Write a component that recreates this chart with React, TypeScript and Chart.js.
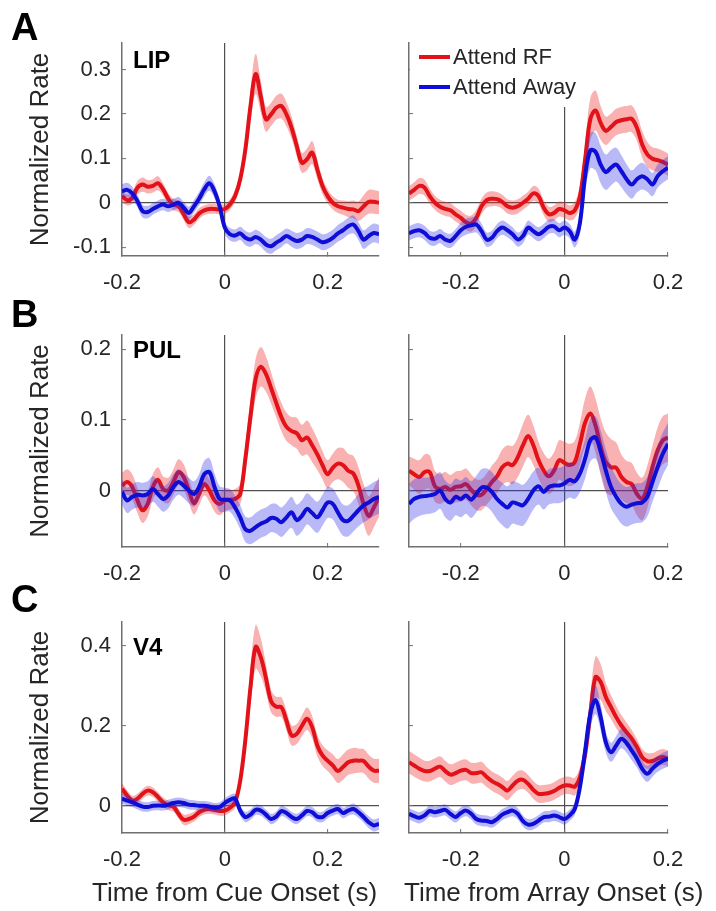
import React, { useEffect, useRef } from "react";
import { Chart, registerables } from "chart.js";
Chart.register(...registerables);

// ---------- time axes (s) ----------
const cueTimes = [
  -0.2, -0.19, -0.18, -0.17, -0.16, -0.15, -0.14, -0.13, -0.12, -0.11,
  -0.1, -0.09, -0.08, -0.07, -0.06, -0.05, -0.04, -0.03, -0.02, -0.01,
  0, 0.01, 0.02, 0.03, 0.04, 0.05, 0.06, 0.07, 0.08, 0.09,
  0.1, 0.11, 0.12, 0.13, 0.14, 0.15, 0.16, 0.17, 0.18, 0.19,
  0.2, 0.21, 0.22, 0.23, 0.24, 0.25, 0.26, 0.27, 0.28, 0.29,
  0.3,
];
const arrayTimes = [
  -0.3, -0.29, -0.28, -0.27, -0.26, -0.25, -0.24, -0.23, -0.22, -0.21,
  -0.2, -0.19, -0.18, -0.17, -0.16, -0.15, -0.14, -0.13, -0.12, -0.11,
  -0.1, -0.09, -0.08, -0.07, -0.06, -0.05, -0.04, -0.03, -0.02, -0.01,
  0, 0.01, 0.02, 0.03, 0.04, 0.05, 0.06, 0.07, 0.08, 0.09,
  0.1, 0.11, 0.12, 0.13, 0.14, 0.15, 0.16, 0.17, 0.18, 0.19,
  0.2,
];

// ---------- tick labels ----------
const cueXTicks = [-0.2, 0, 0.2];
const arrayXTicks = [-0.2, 0, 0.2];
const lipYTicks = [-0.1, 0, 0.1, 0.2, 0.3];
const pulYTicks = [0, 0.1, 0.2];
const v4YTicks = [0, 0.2, 0.4];
const lipYRange = [-0.12, 0.36];
const pulYRange = [-0.08, 0.22];
const v4YRange = [-0.068, 0.46];

// ---------- LIP ----------
const lipCueRF = [
  0.015, 0.006, 0.011, 0.034, 0.041, 0.036, 0.038, 0.044, 0.03, 0.009,
  -0.004, -0.008, -0.026, -0.044, -0.038, -0.024, -0.017, -0.014, -0.014, -0.015,
  -0.014, -0.004, 0.015, 0.053, 0.12, 0.218, 0.29, 0.24, 0.188, 0.199,
  0.214, 0.218, 0.199, 0.169, 0.128, 0.09, 0.098, 0.113, 0.075, 0.038,
  0.015, 0.0, -0.008, -0.011, -0.014, -0.015, -0.019, -0.008, 0.002, 0.002,
  0.0,
];
const lipCueRFErr = [
  0.012, 0.012, 0.013, 0.015, 0.016, 0.015, 0.015, 0.016, 0.014, 0.013,
  0.013, 0.013, 0.013, 0.013, 0.012, 0.012, 0.011, 0.011, 0.011, 0.011,
  0.011, 0.012, 0.013, 0.016, 0.024, 0.036, 0.045, 0.036, 0.028, 0.026,
  0.027, 0.028, 0.027, 0.025, 0.023, 0.022, 0.024, 0.026, 0.022, 0.018,
  0.016, 0.015, 0.015, 0.016, 0.018, 0.02, 0.022, 0.025, 0.027, 0.027,
  0.026,
];
const lipCueAway = [
  0.026, 0.029, 0.021, 0.004, -0.019, -0.021, -0.014, -0.008, -0.004, -0.008,
  -0.004, 0.0, -0.011, -0.023, -0.008, 0.009, 0.03, 0.044, 0.026, -0.008,
  -0.056, -0.071, -0.074, -0.069, -0.079, -0.083, -0.077, -0.083, -0.094, -0.098,
  -0.09, -0.083, -0.075, -0.081, -0.086, -0.083, -0.075, -0.077, -0.083, -0.089,
  -0.086, -0.079, -0.069, -0.062, -0.053, -0.049, -0.064, -0.083, -0.075, -0.068,
  -0.071,
];
const lipCueAwayErr = [
  0.016, 0.016, 0.015, 0.014, 0.014, 0.014, 0.013, 0.013, 0.013, 0.013,
  0.013, 0.013, 0.013, 0.014, 0.014, 0.015, 0.016, 0.017, 0.016, 0.015,
  0.014, 0.014, 0.014, 0.015, 0.016, 0.016, 0.016, 0.016, 0.017, 0.017,
  0.017, 0.017, 0.017, 0.018, 0.018, 0.018, 0.018, 0.018, 0.018, 0.018,
  0.018, 0.018, 0.019, 0.019, 0.019, 0.02, 0.02, 0.021, 0.021, 0.021,
  0.021,
];
const lipArrRF = [
  0.021, 0.029, 0.038, 0.034, 0.015, 0.0, -0.009, -0.014, -0.017, -0.026,
  -0.034, -0.044, -0.047, -0.034, -0.008, 0.006, 0.009, 0.008, 0.002, -0.008,
  -0.011, -0.008, 0.0, 0.009, 0.021, 0.015, -0.011, -0.026, -0.023, -0.014,
  -0.017, -0.023, -0.017, 0.015, 0.098, 0.188, 0.208, 0.18, 0.162, 0.171,
  0.182, 0.186, 0.188, 0.189, 0.169, 0.132, 0.109, 0.099, 0.096, 0.092,
  0.086,
];
const lipArrRFErr = [
  0.016, 0.017, 0.018, 0.018, 0.017, 0.016, 0.016, 0.016, 0.016, 0.016,
  0.016, 0.017, 0.018, 0.018, 0.017, 0.017, 0.017, 0.016, 0.016, 0.016,
  0.016, 0.016, 0.016, 0.016, 0.017, 0.017, 0.017, 0.017, 0.017, 0.017,
  0.017, 0.017, 0.018, 0.022, 0.035, 0.048, 0.045, 0.038, 0.032, 0.03,
  0.03, 0.03, 0.03, 0.03, 0.03, 0.03, 0.028, 0.026, 0.026, 0.025,
  0.025,
];
const lipArrAway = [
  -0.069, -0.064, -0.062, -0.068, -0.079, -0.081, -0.075, -0.083, -0.086, -0.075,
  -0.062, -0.054, -0.051, -0.049, -0.064, -0.083, -0.079, -0.064, -0.056, -0.062,
  -0.071, -0.083, -0.075, -0.056, -0.064, -0.071, -0.064, -0.054, -0.053, -0.062,
  -0.056, -0.064, -0.083, -0.045, 0.06, 0.118, 0.115, 0.086, 0.069, 0.079,
  0.086, 0.071, 0.053, 0.041, 0.053, 0.06, 0.053, 0.041, 0.06, 0.071,
  0.079,
];
const lipArrAwayErr = [
  0.016, 0.016, 0.016, 0.016, 0.016, 0.016, 0.016, 0.016, 0.016, 0.016,
  0.017, 0.018, 0.018, 0.018, 0.017, 0.016, 0.016, 0.016, 0.016, 0.016,
  0.016, 0.016, 0.016, 0.016, 0.016, 0.016, 0.016, 0.016, 0.016, 0.016,
  0.016, 0.016, 0.018, 0.025, 0.035, 0.04, 0.042, 0.042, 0.04, 0.04,
  0.038, 0.036, 0.034, 0.032, 0.03, 0.03, 0.028, 0.026, 0.026, 0.026,
  0.026,
];

// ---------- PUL ----------
const pulCueRF = [
  0.007, 0.012, 0.005, -0.014, -0.028, -0.019, 0.005, 0.015, 0.002, 0.0,
  0.012, 0.026, 0.019, 0.0, -0.018, -0.005, 0.009, 0.0, -0.014, -0.019,
  -0.014, -0.013, -0.012, -0.005, 0.045, 0.105, 0.158, 0.175, 0.165, 0.145,
  0.124, 0.104, 0.09, 0.084, 0.081, 0.071, 0.075, 0.064, 0.051, 0.036,
  0.023, 0.032, 0.038, 0.036, 0.028, 0.024, 0.007, -0.019, -0.036, -0.024,
  -0.009,
];
const pulCueRFErr = [
  0.018, 0.018, 0.018, 0.018, 0.018, 0.018, 0.018, 0.018, 0.018, 0.018,
  0.018, 0.018, 0.018, 0.017, 0.016, 0.016, 0.016, 0.016, 0.016, 0.016,
  0.015, 0.014, 0.014, 0.015, 0.02, 0.024, 0.028, 0.028, 0.025, 0.022,
  0.02, 0.02, 0.02, 0.02, 0.022, 0.022, 0.024, 0.024, 0.022, 0.02,
  0.02, 0.02, 0.022, 0.024, 0.024, 0.025, 0.026, 0.028, 0.028, 0.028,
  0.028,
];
const pulCueAway = [
  -0.002, -0.014, -0.009, -0.006, -0.007, -0.005, 0.002, -0.005, -0.012, -0.007,
  0.005, 0.012, 0.007, 0.0, -0.005, 0.005, 0.023, 0.026, 0.005, -0.012,
  -0.013, -0.014, -0.024, -0.038, -0.055, -0.057, -0.052, -0.047, -0.044, -0.039,
  -0.04, -0.045, -0.038, -0.031, -0.042, -0.036, -0.026, -0.032, -0.038, -0.028,
  -0.017, -0.019, -0.031, -0.042, -0.043, -0.036, -0.028, -0.021, -0.017, -0.012,
  -0.009,
];
const pulCueAwayErr = [
  0.018, 0.018, 0.018, 0.018, 0.018, 0.018, 0.018, 0.018, 0.018, 0.018,
  0.018, 0.018, 0.018, 0.018, 0.018, 0.018, 0.019, 0.02, 0.019, 0.018,
  0.017, 0.016, 0.016, 0.017, 0.018, 0.019, 0.02, 0.02, 0.02, 0.02,
  0.021, 0.021, 0.021, 0.022, 0.022, 0.022, 0.022, 0.022, 0.022, 0.022,
  0.022, 0.022, 0.022, 0.022, 0.022, 0.022, 0.023, 0.024, 0.024, 0.024,
  0.024,
];
const pulArrRF = [
  0.028, 0.023, 0.019, 0.026, 0.026, 0.006, 0.002, 0.005, 0.001, 0.005,
  0.006, 0.009, 0.001, -0.006, -0.006, 0.002, 0.012, 0.02, 0.033, 0.038,
  0.036, 0.047, 0.064, 0.077, 0.064, 0.043, 0.028, 0.02, 0.028, 0.043,
  0.039, 0.036, 0.04, 0.066, 0.096, 0.109, 0.092, 0.062, 0.04, 0.033,
  0.032, 0.019, 0.012, 0.009, -0.005, -0.012, 0.005, 0.033, 0.057, 0.071,
  0.075,
];
const pulArrRFErr = [
  0.02, 0.022, 0.024, 0.025, 0.024, 0.022, 0.021, 0.021, 0.021, 0.022,
  0.022, 0.022, 0.022, 0.022, 0.022, 0.022, 0.023, 0.024, 0.025, 0.026,
  0.027, 0.028, 0.03, 0.03, 0.028, 0.026, 0.025, 0.025, 0.026, 0.028,
  0.03, 0.03, 0.03, 0.03, 0.034, 0.038, 0.038, 0.04, 0.042, 0.04,
  0.036, 0.032, 0.03, 0.03, 0.03, 0.03, 0.03, 0.03, 0.032, 0.034,
  0.034,
];
const pulArrAway = [
  -0.019, -0.012, -0.009, -0.008, -0.007, -0.005, 0.0, -0.012, -0.017, -0.009,
  -0.012, -0.007, -0.013, -0.005, 0.004, 0.004, -0.002, -0.012, -0.019, -0.024,
  -0.017, -0.019, -0.021, -0.012, 0.0, 0.006, -0.002, 0.005, 0.007, 0.007,
  0.01, 0.015, 0.013, 0.024, 0.045, 0.071, 0.075, 0.055, 0.028, 0.005,
  -0.009, -0.019, -0.023, -0.02, -0.018, -0.017, -0.009, 0.012, 0.033, 0.052,
  0.066,
];
const pulArrAwayErr = [
  0.028, 0.028, 0.027, 0.026, 0.026, 0.026, 0.026, 0.026, 0.026, 0.026,
  0.026, 0.026, 0.026, 0.026, 0.026, 0.027, 0.028, 0.029, 0.03, 0.03,
  0.03, 0.03, 0.029, 0.028, 0.027, 0.026, 0.025, 0.025, 0.025, 0.025,
  0.025, 0.025, 0.025, 0.026, 0.028, 0.03, 0.03, 0.03, 0.03, 0.03,
  0.028, 0.028, 0.028, 0.028, 0.028, 0.028, 0.028, 0.028, 0.03, 0.03,
  0.03,
];

// ---------- V4 ----------
const v4CueRF = [
  0.043, 0.026, 0.013, 0.018, 0.03, 0.038, 0.034, 0.022, 0.009, 0.001,
  -0.002, -0.02, -0.035, -0.033, -0.027, -0.016, -0.01, -0.008, -0.01, -0.013,
  -0.012, -0.005, 0.009, 0.063, 0.165, 0.297, 0.398, 0.372, 0.32, 0.262,
  0.248, 0.247, 0.213, 0.176, 0.18, 0.2, 0.218, 0.197, 0.151, 0.126,
  0.113, 0.101, 0.087, 0.097, 0.109, 0.113, 0.113, 0.112, 0.098, 0.088,
  0.088,
];
const v4CueRFErr = [
  0.014, 0.013, 0.012, 0.012, 0.012, 0.012, 0.012, 0.012, 0.012, 0.012,
  0.012, 0.012, 0.013, 0.013, 0.012, 0.012, 0.012, 0.012, 0.012, 0.012,
  0.012, 0.012, 0.014, 0.02, 0.03, 0.045, 0.055, 0.048, 0.035, 0.028,
  0.025, 0.025, 0.025, 0.025, 0.025, 0.026, 0.028, 0.028, 0.027, 0.026,
  0.026, 0.028, 0.03, 0.032, 0.032, 0.032, 0.03, 0.03, 0.03, 0.03,
  0.03,
];
const v4CueAway = [
  0.018, 0.013, 0.009, 0.003, -0.002, -0.003, 0.0, 0.001, 0.0, 0.003,
  0.007, 0.009, 0.007, 0.003, 0.002, 0.0, 0.0, -0.002, -0.005, -0.003,
  0.007, 0.015, 0.018, -0.012, -0.028, -0.022, -0.01, -0.012, -0.022, -0.033,
  -0.027, -0.013, -0.018, -0.028, -0.033, -0.024, -0.013, -0.016, -0.027, -0.028,
  -0.018, -0.012, -0.008, -0.018, -0.012, -0.008, -0.016, -0.028, -0.041, -0.049,
  -0.045,
];
const v4CueAwayErr = [
  0.013, 0.012, 0.012, 0.012, 0.012, 0.012, 0.012, 0.012, 0.012, 0.012,
  0.012, 0.012, 0.012, 0.012, 0.012, 0.012, 0.012, 0.012, 0.012, 0.012,
  0.012, 0.012, 0.012, 0.013, 0.013, 0.013, 0.013, 0.013, 0.013, 0.013,
  0.013, 0.013, 0.013, 0.013, 0.013, 0.013, 0.013, 0.013, 0.013, 0.013,
  0.013, 0.013, 0.013, 0.013, 0.013, 0.014, 0.014, 0.014, 0.015, 0.015,
  0.015,
];
const v4ArrRF = [
  0.109, 0.101, 0.093, 0.087, 0.087, 0.093, 0.098, 0.087, 0.078, 0.082,
  0.088, 0.09, 0.082, 0.082, 0.084, 0.072, 0.062, 0.055, 0.047, 0.038,
  0.051, 0.063, 0.065, 0.055, 0.04, 0.03, 0.03, 0.032, 0.037, 0.045,
  0.051, 0.051, 0.048, 0.072, 0.13, 0.23, 0.322, 0.31, 0.272, 0.247,
  0.222, 0.201, 0.184, 0.168, 0.147, 0.122, 0.112, 0.112, 0.118, 0.122,
  0.118,
];
const v4ArrRFErr = [
  0.028, 0.028, 0.027, 0.026, 0.026, 0.026, 0.026, 0.026, 0.026, 0.026,
  0.026, 0.026, 0.026, 0.026, 0.026, 0.025, 0.024, 0.024, 0.024, 0.024,
  0.024, 0.024, 0.023, 0.022, 0.022, 0.022, 0.022, 0.022, 0.022, 0.022,
  0.022, 0.022, 0.022, 0.025, 0.035, 0.045, 0.052, 0.045, 0.035, 0.03,
  0.028, 0.026, 0.024, 0.022, 0.02, 0.02, 0.02, 0.02, 0.02, 0.02,
  0.02,
];
const v4ArrAway = [
  -0.02, -0.026, -0.03, -0.024, -0.013, -0.016, -0.013, -0.01, -0.02, -0.028,
  -0.018, -0.012, -0.02, -0.033, -0.037, -0.038, -0.041, -0.033, -0.022, -0.016,
  -0.012, -0.02, -0.038, -0.047, -0.045, -0.037, -0.028, -0.027, -0.024, -0.028,
  -0.033, -0.024, -0.008, 0.047, 0.138, 0.23, 0.265, 0.222, 0.159, 0.134,
  0.151, 0.168, 0.157, 0.138, 0.118, 0.093, 0.08, 0.093, 0.105, 0.113,
  0.118,
];
const v4ArrAwayErr = [
  0.014, 0.014, 0.014, 0.014, 0.014, 0.014, 0.014, 0.014, 0.014, 0.014,
  0.014, 0.014, 0.014, 0.014, 0.014, 0.014, 0.014, 0.014, 0.014, 0.014,
  0.014, 0.014, 0.014, 0.014, 0.014, 0.014, 0.014, 0.014, 0.014, 0.014,
  0.014, 0.014, 0.015, 0.02, 0.028, 0.034, 0.036, 0.032, 0.026, 0.024,
  0.024, 0.024, 0.024, 0.024, 0.022, 0.02, 0.02, 0.02, 0.02, 0.02,
  0.02,
];

const seriesNames = ["Attend RF", "Attend Away"];
const regionNames = ["LIP", "PUL", "V4"];
const panelLetters = ["A", "B", "C"];
const xTitles = ["Time from Cue Onset (s)", "Time from Array Onset (s)"];
const yTitle = "Normalized Rate";

// ---------- styles ----------
const FONT = "'Liberation Sans', Arial, Helvetica, sans-serif";
const TEXT = "#262626";
const AXIS = "#707070";
const ZERO = "#505050";
const RED = "rgb(226, 18, 24)";
const BLUE = "rgb(14, 14, 214)";
const RED_BAND = "rgba(238, 50, 50, 0.38)";
const BLUE_BAND = "rgba(50, 50, 235, 0.34)";

type Box = { left: number; top: number; width: number; height: number };
type Area = { left: number; right: number; top: number; bottom: number };
type Spec = {
  id: string;
  times: number[];
  rf: number[];
  rfErr: number[];
  away: number[];
  awayErr: number[];
  xTicks: number[];
  yTicks: number[];
  yRange: number[];
  showYLabels: boolean;
  box: Box;
  area: Area;
  letter?: { text: string; x: number; y: number };
  region?: { text: string; x: number; y: number };
  legend?: boolean;
  xTitle?: { text: string; x: number; y: number };
};

const colBox = [
  { left: 0, width: 395, aLeft: 122, aRight: 379 },
  { left: 392, width: 324, aLeft: 409, aRight: 668 },
];
const rowBox = [
  { top: 0, height: 300, aTop: 43, aBottom: 256, letterY: 40, regionY: 68 },
  { top: 290, height: 300, aTop: 335, aBottom: 547, letterY: 327, regionY: 358 },
  { top: 577, height: 334, aTop: 622, aBottom: 833, letterY: 612, regionY: 655 },
];

const rowData = [
  { cue: [lipCueRF, lipCueRFErr, lipCueAway, lipCueAwayErr], arr: [lipArrRF, lipArrRFErr, lipArrAway, lipArrAwayErr], yTicks: lipYTicks, yRange: lipYRange },
  { cue: [pulCueRF, pulCueRFErr, pulCueAway, pulCueAwayErr], arr: [pulArrRF, pulArrRFErr, pulArrAway, pulArrAwayErr], yTicks: pulYTicks, yRange: pulYRange },
  { cue: [v4CueRF, v4CueRFErr, v4CueAway, v4CueAwayErr], arr: [v4ArrRF, v4ArrRFErr, v4ArrAway, v4ArrAwayErr], yTicks: v4YTicks, yRange: v4YRange },
];

const specs: Spec[] = [];
rowData.forEach((rd, r) => {
  [0, 1].forEach((c) => {
    const cb = colBox[c];
    const rb = rowBox[r];
    const d = c === 0 ? rd.cue : rd.arr;
    specs.push({
      id: `${r}-${c}`,
      times: c === 0 ? cueTimes : arrayTimes,
      rf: d[0],
      rfErr: d[1],
      away: d[2],
      awayErr: d[3],
      xTicks: c === 0 ? cueXTicks : arrayXTicks,
      yTicks: rd.yTicks,
      yRange: rd.yRange,
      showYLabels: c === 0,
      box: { left: cb.left, top: rb.top, width: cb.width, height: rb.height },
      area: { left: cb.aLeft, right: cb.aRight, top: rb.aTop, bottom: rb.aBottom },
      letter: c === 0 ? { text: panelLetters[r], x: 11, y: rb.letterY } : undefined,
      region: c === 0 ? { text: regionNames[r], x: 133, y: rb.regionY } : undefined,
      legend: r === 0 && c === 1,
      xTitle: r === 2 ? { text: xTitles[c], x: c === 0 ? 92 : 404, y: 901 } : undefined,
    });
  });
});

const fmt = (v: number) => (Math.abs(v) < 1e-9 ? "0" : String(Number(v.toFixed(2))));

function buildConfig(s: Spec): any {
  const pts = (vals: number[]) => s.times.map((t, i) => ({ x: t, y: vals[i] }));
  const up = (v: number[], e: number[]) => pts(v.map((y, i) => y + e[i]));
  const lo = (v: number[], e: number[]) => pts(v.map((y, i) => y - e[i]));
  const base = { pointRadius: 0, tension: 0.35, borderWidth: 0 };
  const datasets = [
    { ...base, label: "rf-up", data: up(s.rf, s.rfErr), fill: "+1", backgroundColor: RED_BAND, borderColor: "transparent", order: 6 },
    { ...base, label: "rf-lo", data: lo(s.rf, s.rfErr), fill: false, borderColor: "transparent", order: 5 },
    { ...base, label: seriesNames[0], data: pts(s.rf), fill: false, borderColor: RED, borderWidth: 4, order: 4 },
    { ...base, label: "away-up", data: up(s.away, s.awayErr), fill: "+1", backgroundColor: BLUE_BAND, borderColor: "transparent", order: 3 },
    { ...base, label: "away-lo", data: lo(s.away, s.awayErr), fill: false, borderColor: "transparent", order: 2 },
    { ...base, label: seriesNames[1], data: pts(s.away), fill: false, borderColor: BLUE, borderWidth: 4, order: 1 },
  ];

  const padTop = s.area.top - s.box.top;
  const yWidth = s.area.left - s.box.left;
  const padRight = s.box.left + s.box.width - s.area.right;
  const xHeight = s.box.top + s.box.height - s.area.bottom;
  const ox = s.box.left;
  const oy = s.box.top;

  const decor = {
    id: "decor",
    beforeDatasetsDraw(chart: any) {
      if (!s.legend) return;
      const ctx = chart.ctx;
      const { left, top } = chart.chartArea;
      ctx.save();
      ctx.fillStyle = "#ffffff";
      ctx.fillRect(left + 1, top, 175, 64);
      const rows = [
        { name: seriesNames[0], color: RED, y: 57 },
        { name: seriesNames[1], color: BLUE, y: 87 },
      ];
      rows.forEach((r) => {
        ctx.strokeStyle = r.color;
        ctx.lineWidth = 4;
        ctx.beginPath();
        ctx.moveTo(419 - ox, r.y - oy);
        ctx.lineTo(450 - ox, r.y - oy);
        ctx.stroke();
        ctx.fillStyle = TEXT;
        ctx.font = `22px ${FONT}`;
        ctx.textAlign = "left";
        ctx.textBaseline = "middle";
        ctx.fillText(r.name, 453 - ox, r.y - oy + 1);
      });
      ctx.restore();
    },
    afterDraw(chart: any) {
      const ctx = chart.ctx;
      ctx.save();
      ctx.textAlign = "left";
      ctx.textBaseline = "alphabetic";
      if (s.letter) {
        ctx.fillStyle = "#000";
        ctx.font = `bold 38px ${FONT}`;
        ctx.fillText(s.letter.text, s.letter.x - ox, s.letter.y - oy);
      }
      if (s.region) {
        ctx.fillStyle = "#000";
        ctx.font = `bold 24px ${FONT}`;
        ctx.fillText(s.region.text, s.region.x - ox, s.region.y - oy);
      }
      if (s.xTitle) {
        ctx.fillStyle = TEXT;
        ctx.font = `26px ${FONT}`;
        ctx.fillText(s.xTitle.text, s.xTitle.x - ox, s.xTitle.y - oy);
      }
      ctx.restore();
    },
  };

  const gridColor = (c: any) => (c.tick && Math.abs(c.tick.value) < 1e-9 ? ZERO : "rgba(0,0,0,0)");

  return {
    type: "line",
    data: { datasets },
    options: {
      animation: false,
      responsive: false,
      maintainAspectRatio: false,
      events: [],
      layout: { padding: { top: padTop, right: padRight, left: 0, bottom: 0 } },
      plugins: { legend: { display: false }, tooltip: { enabled: false } },
      scales: {
        x: {
          type: "linear",
          min: s.times[0],
          max: s.times[s.times.length - 1],
          afterBuildTicks: (sc: any) => {
            sc.ticks = s.xTicks.map((v) => ({ value: v }));
          },
          afterFit: (sc: any) => {
            sc.height = xHeight;
          },
          grid: { color: gridColor, lineWidth: 1.2, drawTicks: true, tickLength: -4, tickColor: AXIS, tickWidth: 1 },
          border: { display: true, color: AXIS, width: 1.5 },
          ticks: {
            autoSkip: false,
            maxRotation: 0,
            padding: 18,
            color: TEXT,
            font: { family: FONT, size: 22 },
            callback: (v: number) => fmt(v),
          },
        },
        y: {
          type: "linear",
          min: s.yRange[0],
          max: s.yRange[1],
          afterBuildTicks: (sc: any) => {
            sc.ticks = s.yTicks.map((v) => ({ value: v }));
          },
          afterFit: (sc: any) => {
            sc.width = yWidth;
          },
          grid: { color: gridColor, lineWidth: 1.2, drawTicks: true, tickLength: -4, tickColor: AXIS, tickWidth: 1 },
          border: { display: true, color: AXIS, width: 1.5 },
          title: {
            display: s.showYLabels,
            text: yTitle,
            color: TEXT,
            font: { family: FONT, size: 26 },
            padding: { top: 25, bottom: 0 },
          },
          ticks: {
            display: s.showYLabels,
            padding: 15,
            color: TEXT,
            font: { family: FONT, size: 22 },
            callback: (v: number) => fmt(v),
          },
        },
      },
    },
    plugins: [decor],
  };
}

function Panel({ spec }: { spec: Spec }) {
  const ref = useRef<HTMLCanvasElement>(null);
  useEffect(() => {
    const chart = new Chart(ref.current as HTMLCanvasElement, buildConfig(spec));
    return () => chart.destroy();
  }, [spec]);
  return (
    <canvas
      ref={ref}
      width={spec.box.width}
      height={spec.box.height}
      style={{
        position: "absolute",
        left: spec.box.left,
        top: spec.box.top,
        width: spec.box.width,
        height: spec.box.height,
      }}
    />
  );
}

export default function App() {
  return (
    <div
      style={{
        position: "absolute",
        left: 0,
        top: 0,
        width: 716,
        height: 911,
        background: "#ffffff",
        overflow: "hidden",
      }}
    >
      {specs.map((s) => (
        <Panel key={s.id} spec={s} />
      ))}
    </div>
  );
}
